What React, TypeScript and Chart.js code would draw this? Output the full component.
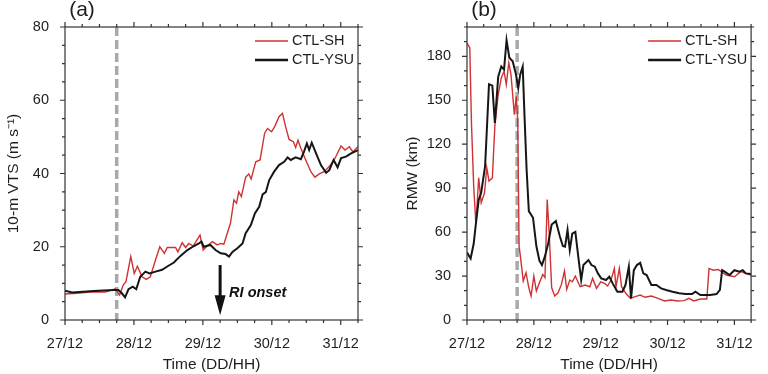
import React, { useEffect, useRef } from "react";
import { Chart, registerables } from "chart.js";

Chart.register(...registerables);

// ---------- data ----------
const dayLabels = ["27/12", "28/12", "29/12", "30/12", "31/12"];
const seriesNames = ["CTL-SH", "CTL-YSU"];

// Panel (a): 10-m VTS (m/s), hours since 27/12 00
const vtsShHours = [0, 4, 10, 14, 17.5, 19, 20.3, 21.2, 22.9, 24.1, 25.2, 26.8, 28.3, 29.7, 31.5, 33, 34.6, 35.6, 38.5, 39.3, 40.8, 42, 43.1, 44.6, 47, 48.1, 49.5, 51.3, 53, 54.2, 55.3, 56.5, 57.6, 58.8, 59.7, 60.5, 61.4, 62.9, 64, 64.8, 66.4, 67.9, 69.5, 70.5, 71.9, 73, 74.5, 75.7, 76.8, 78, 79.5, 80.3, 81.1, 82.1, 83.8, 85.6, 87, 88.5, 90.2, 92, 93.7, 96.1, 97.5, 99, 100.2, 101.7, 102];
const vtsShValues = [7.1, 7.3, 7.7, 7.6, 8.5, 6.8, 9.6, 10.4, 17.3, 12.7, 14.7, 11.8, 11.1, 11.8, 16.4, 20, 18.2, 19.8, 19.8, 18.6, 21.1, 19.8, 20.9, 20.2, 23.2, 19.1, 20.2, 21.4, 20.5, 20.9, 20.7, 23.7, 26.4, 32.8, 31.9, 35, 33.7, 39, 39.9, 38.5, 43.2, 43.7, 51, 52.3, 51.4, 52.8, 55.5, 56.4, 52.8, 49.3, 48.7, 47.1, 49.1, 46.9, 43.7, 40.5, 39, 39.9, 40.5, 41.9, 43.7, 47.5, 46.4, 47.3, 45.9, 47.1, 47.3];

const vtsYsuHours = [0, 2.5, 10, 17, 18.6, 19.8, 20.9, 22.1, 23.6, 24.8, 26.2, 28, 29.4, 31.5, 33.8, 35.6, 37.9, 40.2, 42.6, 44.9, 46.6, 47.5, 48.3, 50.6, 52.4, 54.2, 55.9, 57.1, 58.3, 60, 61.8, 62.9, 64.7, 66.1, 67.6, 68.8, 69.9, 71.1, 72.8, 74.5, 76.3, 77.5, 78.6, 80.3, 82.1, 83.2, 84.2, 85, 85.9, 87.4, 89.1, 90.9, 92, 93.5, 94.9, 96.1, 97.8, 99.6, 102];
const vtsYsuValues = [8, 7.5, 7.9, 8.2, 8.2, 7.3, 6.2, 8.4, 9.1, 8.4, 11.8, 13.2, 12.7, 13.2, 13.7, 14.6, 15.7, 17.5, 19.1, 20.2, 20.9, 21.4, 20, 20.5, 19.1, 18.2, 18, 17.3, 18.6, 19.6, 20.9, 23.7, 25.9, 29.1, 30.9, 34.3, 34.9, 38.2, 40.5, 42.3, 43.2, 44.4, 43.7, 44.4, 43.9, 46, 48.2, 46.4, 48.4, 45.5, 42.3, 40.2, 40.9, 43.7, 41.7, 44.2, 44.6, 45.5, 46.4];

// Panel (b): RMW (km)
const rmwShHours = [0, 1, 1.6, 2.4, 3.2, 4.2, 5.1, 6.3, 7.1, 7.9, 9.1, 10, 11.2, 12.3, 13.3, 14.1, 15, 15.8, 17, 17.7, 18.2, 18.7, 19.3, 20.2, 21.2, 22.2, 23, 24, 24.9, 26, 27.2, 28, 28.8, 29.5, 30.4, 31.5, 32.7, 33.9, 35, 35.8, 36.9, 37.8, 38.9, 40.6, 42.4, 44.1, 45.1, 46.5, 48, 49.4, 50.5, 51.7, 52.9, 53.5, 54.7, 55.5, 57, 58.7, 60.4, 62.2, 63.9, 66.2, 68.6, 70.9, 73.2, 75.6, 77.9, 79.7, 81.4, 83.8, 86.1, 86.9, 88.4, 90.2, 91.3, 93.1, 94.8, 96, 98.3, 100.1, 102];
const rmwShValues = [189, 185.7, 134.5, 91.4, 65.2, 97, 80, 86.8, 103.9, 94.8, 97, 132.3, 153.9, 165.2, 169.8, 160.7, 175.5, 167.5, 140.2, 152.7, 136.8, 50.5, 41.4, 26.6, 32.3, 22, 16.4, 30, 19.8, 25.5, 31.1, 28.9, 82.3, 59.5, 22, 16.4, 18.6, 24.3, 33.4, 20.9, 27.3, 26.1, 30, 22.7, 23.9, 22.7, 28.4, 21.6, 26.1, 25, 23.2, 27.3, 35.2, 22.7, 35.2, 22.7, 18.2, 14.8, 15.9, 17, 15.5, 16.4, 14.8, 13, 13.6, 13, 13.2, 14.8, 13, 14.3, 14.3, 35.2, 34, 34.5, 33, 30.7, 30, 29.5, 33, 31.8, 30.7];

const rmwYsuHours = [0, 1.3, 2.4, 3.2, 4.2, 5.1, 6.5, 7.9, 9.1, 10, 11.2, 12.3, 13.3, 14.2, 15.2, 16.4, 17.6, 18.4, 19.1, 20, 20.7, 21.4, 22.2, 23.7, 24.9, 26, 26.9, 28, 29.2, 30.4, 31.9, 33.3, 34.4, 35.2, 36.1, 36.9, 37.8, 38.9, 40.1, 41, 41.8, 43.6, 44.7, 45.9, 47, 48.2, 49.9, 51.1, 52.3, 54, 55.8, 56.9, 58.1, 58.9, 59.9, 61, 62.2, 63.3, 64.5, 66.2, 68, 69.7, 71.5, 73.8, 76.2, 78.5, 80.8, 82, 83.8, 85.5, 87.3, 89.6, 90.8, 91.6, 92.5, 94.3, 96, 97.8, 99, 100.1, 102];
const rmwYsuValues = [46, 42, 52, 66, 82, 87, 105, 161, 160, 134.5, 166, 173, 171, 191, 179, 176.6, 167.5, 158.4, 167.5, 173, 136.8, 102.7, 74.3, 69.8, 50.5, 40.5, 37.5, 43.6, 52.7, 65.2, 67.5, 57.3, 50.5, 50, 61.4, 47.7, 59, 60.2, 40.9, 27.3, 37.5, 40.9, 37.5, 36.4, 31.8, 28.4, 27.3, 29.5, 25, 19.3, 19.3, 23.9, 36.4, 14.8, 34, 37.5, 39, 31.8, 30.7, 23.9, 23.9, 21.6, 20.5, 19.3, 18.2, 17.7, 17.7, 19.3, 17, 17, 17, 17.7, 20.5, 34, 33, 30.7, 34, 33, 34, 31.8, 31.4];

// annotation values
const dashedLineHour = 18; // 27/12 18
const riOnsetHour = 54; // 29/12 06

// ---------- styles ----------
const FONT = '"Liberation Sans", Arial, Helvetica, sans-serif';
const RED = "rgb(208,50,52)";
const BLACK = "#161616";
const GRAY = "#a9a9a9";
const TEXT = "#1e1e1e";

type Panel = {
  label: string;
  yTitle: string;
  yMax: number;
  yStep: number;
  yMinor: number;
  leftW: number;
  padRight: number;
  yTitlePad: number;
  sh: { h: number[]; v: number[] };
  ysu: { h: number[]; v: number[] };
  showArrow: boolean;
};

const panels: Panel[] = [
  {
    label: "(a)",
    yTitle: "10-m VTS (m s\u207B\u00B9)",
    yMax: 80,
    yStep: 20,
    yMinor: 5,
    leftW: 65,
    padRight: 26,
    yTitlePad: 4,
    sh: { h: vtsShHours, v: vtsShValues },
    ysu: { h: vtsYsuHours, v: vtsYsuValues },
    showArrow: true,
  },
  {
    label: "(b)",
    yTitle: "RMW (km)",
    yMax: 200,
    yStep: 30,
    yMinor: 10,
    leftW: 83,
    padRight: 8,
    yTitlePad: 19,
    sh: { h: rmwShHours, v: rmwShValues },
    ysu: { h: rmwYsuHours, v: rmwYsuValues },
    showArrow: false,
  },
];

function decorPlugin(p: Panel) {
  return {
    id: "decor" + p.label,
    beforeDatasetsDraw(chart: any) {
      const { ctx, chartArea: a, scales } = chart;
      const x = scales.x.getPixelForValue(dashedLineHour);
      ctx.save();
      ctx.strokeStyle = GRAY;
      ctx.lineWidth = 3.5;
      ctx.setLineDash([9, 4]);
      ctx.beginPath();
      ctx.moveTo(x, a.top);
      ctx.lineTo(x, a.bottom);
      ctx.stroke();
      ctx.restore();
    },
    afterDraw(chart: any) {
      const { ctx, chartArea: a, scales } = chart;
      const xs = scales.x;
      const ys = scales.y;
      ctx.save();
      // frame
      ctx.strokeStyle = "#333";
      ctx.lineWidth = 1.2;
      ctx.strokeRect(a.left, a.top, a.right - a.left, a.bottom - a.top);
      // ticks
      const major = 5;
      const minor = 3;
      ctx.beginPath();
      for (let h = 0; h <= xs.max + 1e-6; h += 6) {
        const px = xs.getPixelForValue(h);
        const len = h % 24 === 0 ? major : minor;
        ctx.moveTo(px, a.bottom);
        ctx.lineTo(px, a.bottom + len);
        ctx.moveTo(px, a.top);
        ctx.lineTo(px, a.top - len);
      }
      for (let v = 0; v <= ys.max + 1e-6; v += p.yMinor) {
        const py = ys.getPixelForValue(v);
        const len = v % p.yStep === 0 ? major : minor;
        ctx.moveTo(a.left, py);
        ctx.lineTo(a.left - len, py);
        ctx.moveTo(a.right, py);
        ctx.lineTo(a.right + len, py);
      }
      ctx.stroke();

      // legend
      const items = [
        { name: seriesNames[0], color: RED, w: 1.5, dy: 14 },
        { name: seriesNames[1], color: BLACK, w: 2.3, dy: 33 },
      ];
      ctx.font = `14.5px ${FONT}`;
      ctx.textBaseline = "middle";
      ctx.textAlign = "left";
      for (const it of items) {
        const y = a.top + it.dy;
        ctx.strokeStyle = it.color;
        ctx.lineWidth = it.w;
        ctx.beginPath();
        ctx.moveTo(a.right - 103, y);
        ctx.lineTo(a.right - 70, y);
        ctx.stroke();
        ctx.fillStyle = TEXT;
        ctx.fillText(it.name, a.right - 66, y);
      }

      // panel label
      ctx.font = `21px ${FONT}`;
      ctx.textAlign = "center";
      ctx.textBaseline = "alphabetic";
      ctx.fillStyle = TEXT;
      ctx.fillText(p.label, a.left + 17, 16);

      // RI onset arrow
      if (p.showArrow) {
        const x = xs.getPixelForValue(riOnsetHour);
        const y1 = ys.getPixelForValue(15);
        const y2 = ys.getPixelForValue(1.3);
        ctx.strokeStyle = "#111";
        ctx.fillStyle = "#111";
        ctx.lineWidth = 3;
        ctx.beginPath();
        ctx.moveTo(x, y1);
        ctx.lineTo(x, y2 - 16);
        ctx.stroke();
        ctx.beginPath();
        ctx.moveTo(x - 5.5, y2 - 20);
        ctx.lineTo(x + 5.5, y2 - 20);
        ctx.lineTo(x, y2);
        ctx.closePath();
        ctx.fill();
        ctx.font = `italic bold 14.5px ${FONT}`;
        ctx.textAlign = "left";
        ctx.textBaseline = "middle";
        ctx.fillStyle = "#111";
        ctx.fillText("RI onset", x + 9, ys.getPixelForValue(7.4));
      }
      ctx.restore();
    },
  };
}

function PanelChart({ p, left }: { p: Panel; left: number }) {
  const ref = useRef<HTMLCanvasElement | null>(null);
  useEffect(() => {
    if (!ref.current) return;
    const toPts = (s: { h: number[]; v: number[] }) => s.h.map((h, i) => ({ x: h, y: s.v[i] }));
    const chart = new Chart(ref.current, {
      type: "line",
      data: {
        datasets: [
          {
            label: seriesNames[1],
            data: toPts(p.ysu),
            borderColor: BLACK,
            borderWidth: 2,
            pointRadius: 0,
            tension: 0,
            fill: false,
          },
          {
            label: seriesNames[0],
            data: toPts(p.sh),
            borderColor: RED,
            borderWidth: 1.4,
            pointRadius: 0,
            tension: 0,
            fill: false,
          },
        ],
      },
      options: {
        animation: false,
        responsive: false,
        maintainAspectRatio: false,
        events: [],
        layout: { padding: { left: 0, right: p.padRight, top: 27, bottom: 0 } },
        plugins: { legend: { display: false }, tooltip: { enabled: false } },
        scales: {
          x: {
            type: "linear",
            min: 0,
            max: 102,
            grid: { display: false, drawTicks: false },
            border: { display: false },
            ticks: {
              stepSize: 24,
              autoSkip: false,
              maxRotation: 0,
              includeBounds: false,
              padding: 15,
              color: TEXT,
              font: { family: FONT, size: 14.5 },
              callback: (v: any) => dayLabels[Math.round(Number(v) / 24)] ?? "",
            },
            title: {
              display: true,
              text: "Time (DD/HH)",
              color: TEXT,
              font: { family: FONT, size: 15.5 },
              padding: { top: 0, bottom: 0 },
            },
            afterFit: (s: any) => {
              s.height = 54;
            },
          },
          y: {
            type: "linear",
            min: 0,
            max: p.yMax,
            grid: { display: false, drawTicks: false },
            border: { display: false },
            ticks: {
              stepSize: p.yStep,
              includeBounds: false,
              padding: 16,
              color: TEXT,
              font: { family: FONT, size: 14.5 },
            },
            title: {
              display: true,
              text: p.yTitle,
              color: TEXT,
              font: { family: FONT, size: 15.5 },
              padding: { top: p.yTitlePad, bottom: 0 },
            },
            afterFit: (s: any) => {
              s.width = p.leftW;
            },
          },
        },
      } as any,
      plugins: [decorPlugin(p)],
    });
    return () => chart.destroy();
  }, [p]);
  return (
    <canvas
      ref={ref}
      width={384}
      height={374}
      style={{ position: "absolute", left, top: 0, width: 384, height: 374, display: "block" }}
    />
  );
}

export default function App() {
  return (
    <div style={{ position: "fixed", left: 0, top: 0, width: 768, height: 374, background: "#fff", overflow: "hidden" }}>
      <PanelChart p={panels[0]} left={0} />
      <PanelChart p={panels[1]} left={384} />
    </div>
  );
}
